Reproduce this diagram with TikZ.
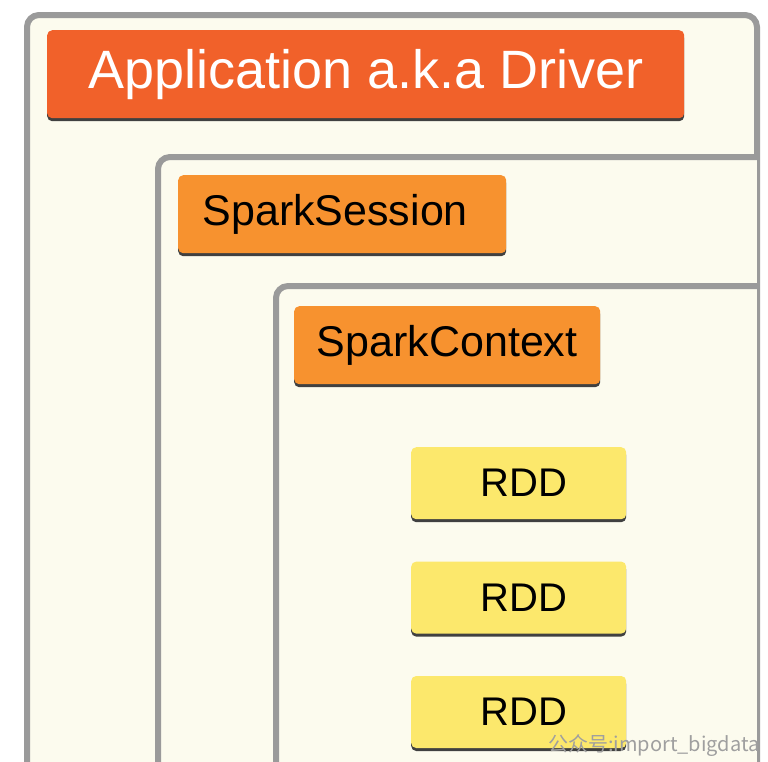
\documentclass[tikz,border=0pt]{standalone}
\usepackage{fontspec}
\setmainfont{Liberation Sans}
\newfontfamily\cjkfont{Noto Sans CJK SC}
\usepackage{xcolor}
\usetikzlibrary{
	positioning,
	shadows
}
\definecolor{cream}{HTML}{FCFBEE}
\definecolor{framegray}{HTML}{9A9A9A}
\definecolor{driverred}{HTML}{F1612A}
\definecolor{sparkorange}{HTML}{F7922F}
\definecolor{rddyellow}{HTML}{FCE86C}

\begin{document}
\begin{tikzpicture}[x=1pt,y=-1pt,
		frame/.style={draw=framegray, line width=6pt, rounded corners=12pt},
		tag/.style={rectangle, rounded corners=5pt, anchor=north west, inner sep=0pt,
			drop shadow={shadow xshift=0pt, shadow yshift=-3pt, fill=black!75, opacity=1}},
		drivertag/.style={tag, fill=driverred, text=white, font=\fontsize{54}{58}\selectfont,
			minimum width=637pt, minimum height=88pt},
		sparktag/.style={tag, fill=sparkorange, text=black, font=\fontsize{43}{47}\selectfont,
			minimum height=78pt},
		rddtag/.style={tag, fill=rddyellow, text=black, font=\fontsize{40}{44}\selectfont,
			minimum width=215pt, minimum height=72pt}]
		
		\clip (0,0) rectangle (768,761);
		\fill[white] (0,0) rectangle (768,761);
		
		% Outer frame
		\filldraw[frame, fill=cream] (27,800) -- (27,15) -- (757,15) -- (757,800);
		
		% Session frame
		\fill[cream] (158,157) rectangle (757,800);
		\draw[frame] (158,800) -- (158,157) -- (757,157);
		
		% Context frame
		\fill[cream] (276,286) rectangle (757,800);
		\draw[frame] (276,800) -- (276,286) -- (757,286);
		
		% Boxes
		\node[drivertag] (driver) at (47,30) {Application a.k.a Driver};
		\node[sparktag, minimum width=328pt] (session) at (178,175) {SparkSession\hspace*{14pt}};
		\node[sparktag, minimum width=306pt] (context) at (294,306) {SparkContext};
		
		\node[rddtag] (rdd1) at (411,447) {\hspace*{10pt}RDD};
		\node[rddtag, below=42pt of rdd1.south west, anchor=north west] (rdd2) {\hspace*{10pt}RDD};
		\node[rddtag, below=42pt of rdd2.south west, anchor=north west] (rdd3) {\hspace*{10pt}RDD};
		
		% Watermark
		\node[anchor=east, text=gray!75, font=\cjkfont\fontsize{20}{22}\selectfont]
		(mark) at (763,746) {公众号:import\_bigdata};
		
	\end{tikzpicture}
\end{document}
